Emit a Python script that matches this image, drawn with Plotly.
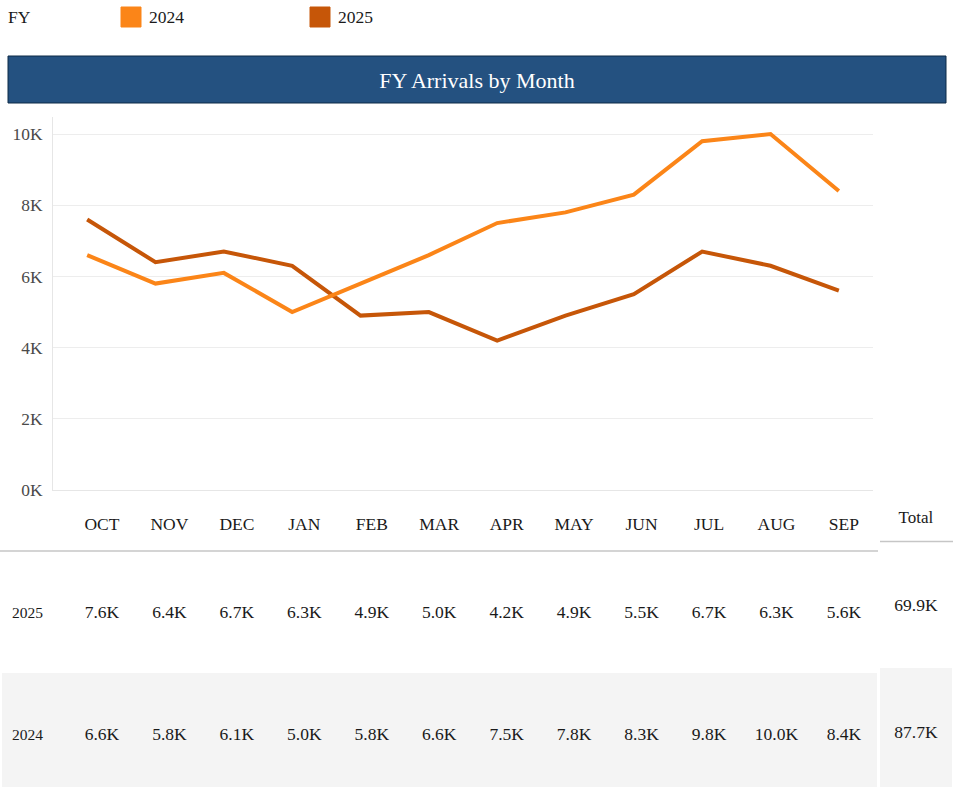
import numpy as np
import plotly.graph_objects as go

# ---------------- data ----------------
months = ["OCT", "NOV", "DEC", "JAN", "FEB", "MAR", "APR", "MAY", "JUN", "JUL", "AUG", "SEP"]
years = ["2024", "2025"]
arrivals_2024 = [6600, 5800, 6100, 5000, 5800, 6600, 7500, 7800, 8300, 9800, 10000, 8400]
arrivals_2025 = [7600, 6400, 6700, 6300, 4900, 5000, 4200, 4900, 5500, 6700, 6300, 5600]
total_2024 = 87700
total_2025 = 69900
y_tick_vals = [0, 2000, 4000, 6000, 8000, 10000]
y_tick_text = ["0K", "2K", "4K", "6K", "8K", "10K"]
series_colors = ["#FB8518", "#C65608"]
title_text = "FY Arrivals by Month"
legend_title = "FY"
total_label = "Total"

# ---------------- layout helpers ----------------
W = 954
H_REF = 787          # reference picture height (design coordinates)
H_FIG = 797          # figure height (page is captured slightly taller)
FONT = "Liberation Serif"


def px(x):
    return x / W


def py(y):
    return 1 - y / H_REF


def fmt_k(v):
    return f"{v / 1000:.1f}K"


fig = go.Figure()

# ---------------- line chart (2025 underneath, 2024 on top) ----------------
series = [("2025", arrivals_2025, series_colors[1]), ("2024", arrivals_2024, series_colors[0])]
for name, vals, col in series:
    fig.add_trace(go.Scatter(
        x=months, y=vals, mode="lines", name=name,
        line=dict(color=col, width=4), xaxis="x", yaxis="y",
        hoverinfo="skip", showlegend=False,
    ))

# ---------------- table (second, hidden axis system) ----------------
# table y axis: row index 1 -> 2025 row, 2 -> 2024 row (122 ref px apart)
TOP_T, ROW_PX, ROW1_PX = 490, 122, 612
y2_bottom = 1 + (H_REF - ROW1_PX) / ROW_PX
col_idx = np.arange(len(months))
row_pos = {"2025": 1.0, "2024": 2.0}
text_dy = 0.014
header_pos = 0.295
total_col = 12.068
total_header_pos = 0.237
total_row_pos = {"2025": 0.959, "2024": 2.0}
text_font = dict(family=FONT, size=17.5, color="#1a1a1a")

fig.add_trace(go.Scatter(
    x=col_idx, y=[header_pos] * len(months), text=months, mode="text",
    textfont=text_font, xaxis="x2", yaxis="y2", hoverinfo="skip", showlegend=False,
))
for name, vals in (("2025", arrivals_2025), ("2024", arrivals_2024)):
    fig.add_trace(go.Scatter(
        x=col_idx, y=[row_pos[name] + text_dy] * len(vals), text=[fmt_k(v) for v in vals],
        mode="text", textfont=text_font, xaxis="x2", yaxis="y2",
        hoverinfo="skip", showlegend=False,
    ))
fig.add_trace(go.Scatter(
    x=[total_col], y=[total_header_pos], text=[total_label], mode="text",
    textfont=dict(family=FONT, size=17, color="#1a1a1a"), xaxis="x2", yaxis="y2",
    hoverinfo="skip", showlegend=False,
))
fig.add_trace(go.Scatter(
    x=[total_col, total_col], y=[total_row_pos["2025"], total_row_pos["2024"]],
    text=[fmt_k(total_2025), fmt_k(total_2024)], mode="text",
    textfont=text_font, xaxis="x2", yaxis="y2", hoverinfo="skip", showlegend=False,
))

annotations = []
for name in ("2025", "2024"):
    annotations.append(dict(
        x=-1.37, y=row_pos[name], xref="x2", yref="y2", text=name,
        showarrow=False, xanchor="left", yanchor="middle",
        font=dict(family=FONT, size=15.5, color="#1a1a1a"),
    ))

# legend (manual, square swatches)
annotations.append(dict(
    x=px(6), y=py(17), xref="paper", yref="paper", text=legend_title,
    showarrow=False, xanchor="left", yanchor="middle",
    font=dict(family=FONT, size=17.5, color="#1a1a1a"),
))
legend_x = [121, 310]
shapes = []
for lx, name, col in zip(legend_x, years, series_colors):
    shapes.append(dict(
        type="rect", xref="paper", yref="paper",
        x0=px(lx), x1=px(lx + 20), y0=py(27), y1=py(7),
        fillcolor=col, line=dict(color=col, width=1),
    ))
    annotations.append(dict(
        x=px(lx + 26), y=py(17), xref="paper", yref="paper", text=name,
        showarrow=False, xanchor="left", yanchor="middle",
        font=dict(family=FONT, size=17.5, color="#1a1a1a"),
    ))

# title bar
shapes.append(dict(
    type="rect", xref="paper", yref="paper",
    x0=px(8), x1=px(946), y0=py(103), y1=py(56),
    fillcolor="#245180", line=dict(color="#0c2a46", width=1), layer="below",
))

# table backgrounds and separators
shapes.append(dict(
    type="rect", xref="paper", yref="y2", x0=px(2), x1=px(877), y0=1.5, y1=y2_bottom + 0.2,
    fillcolor="#f4f4f4", line=dict(width=0), layer="below",
))
shapes.append(dict(
    type="rect", xref="paper", yref="y2", x0=px(880), x1=px(952), y0=1.459, y1=y2_bottom + 0.2,
    fillcolor="#f4f4f4", line=dict(width=0), layer="below",
))
shapes.append(dict(
    type="line", xref="paper", yref="y2", x0=0, x1=px(878), y0=0.5, y1=0.5,
    line=dict(color="#c6c6c6", width=1.5),
))
shapes.append(dict(
    type="line", xref="paper", yref="y2", x0=px(880), x1=px(953), y0=0.422, y1=0.422,
    line=dict(color="#c6c6c6", width=1.5),
))

fig.update_layout(
    width=W, height=H_FIG,
    margin=dict(l=0, r=0, t=0, b=0),
    paper_bgcolor="white", plot_bgcolor="white",
    showlegend=False, hovermode=False,
    font=dict(family=FONT, color="#1a1a1a"),
    title=dict(
        text=title_text, x=0.5, y=py(80), xref="paper", yref="paper",
        xanchor="center", yanchor="middle",
        font=dict(family=FONT, size=22, color="white"),
    ),
    xaxis=dict(
        domain=[px(53), px(873)], type="category", categoryarray=months,
        range=[-0.5, 11.5], showticklabels=False, showgrid=False,
        showline=True, linecolor="#e6e6e6", linewidth=1, ticks="",
        zeroline=False, fixedrange=True, anchor="y",
    ),
    yaxis=dict(
        domain=[py(490), py(117)], range=[0, 10480],
        tickvals=y_tick_vals, ticktext=y_tick_text,
        tickfont=dict(family=FONT, size=17.4, color="#4a4a4a"),
        showgrid=True, gridcolor="#ededed", gridwidth=1,
        showline=True, linecolor="#e6e6e6", linewidth=1,
        zeroline=False, ticks="", ticklabelstandoff=6, fixedrange=True, anchor="x",
    ),
    xaxis2=dict(
        domain=[0, 1], range=[-1.512, 12.632], showticklabels=False,
        showgrid=False, zeroline=False, showline=False, ticks="",
        fixedrange=True, anchor="y2",
    ),
    yaxis2=dict(
        domain=[0, py(TOP_T)], range=[y2_bottom, 0], showticklabels=False,
        showgrid=False, zeroline=False, showline=False, ticks="",
        fixedrange=True, anchor="x2",
    ),
    shapes=shapes,
    annotations=annotations,
)

fig.write_html(
    "out.html",
    config={"displayModeBar": False},
    post_script="document.body.style.margin='0';document.body.style.overflow='hidden';",
)
